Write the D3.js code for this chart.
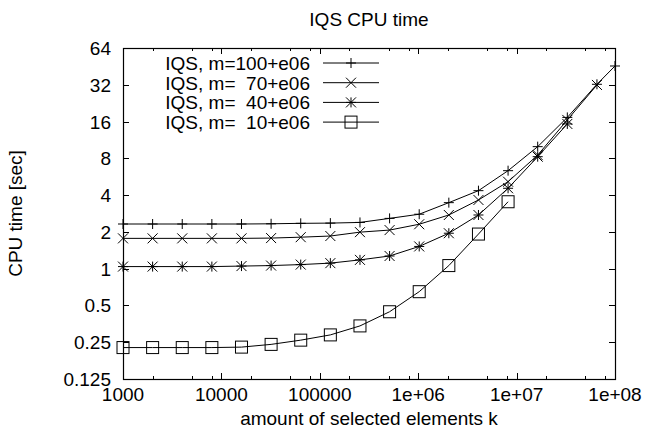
<!DOCTYPE html>
<html>
<head>
<meta charset="utf-8">
<script src="https://cdn.jsdelivr.net/npm/d3@7"></script>
<style>
  body { margin: 0; background: #fff; }
  text { font-family: "Liberation Sans", Arial, sans-serif; fill: #000; }
</style>
</head>
<body>
<svg width="647" height="436"></svg>
<script>
// k values (selected elements)
const kValues = [1000, 2000, 4000, 8000, 16000, 32000, 64000, 128000, 256000, 512000,
  1024000, 2048000, 4096000, 8192000, 16384000, 32768000, 65536000, 100000000];

const seriesNames = ["IQS, m=100+e06", "IQS, m=  70+e06", "IQS, m=  40+e06", "IQS, m=  10+e06"];

const m100 = [2.32, 2.32, 2.32, 2.32, 2.32, 2.33, 2.35, 2.36, 2.39, 2.58, 2.79, 3.47, 4.35, 6.34, 9.97, 17.3, 32.3, 45.6];
const m70 = [1.77, 1.77, 1.77, 1.77, 1.77, 1.78, 1.81, 1.85, 1.99, 2.07, 2.31, 2.75, 3.65, 5.15, 8.5, 16.5, 31.9];
const m40 = [1.04, 1.04, 1.04, 1.04, 1.05, 1.06, 1.08, 1.11, 1.18, 1.27, 1.52, 1.95, 2.75, 4.55, 8.25, 15.3];
const m10 = [0.226, 0.226, 0.226, 0.226, 0.228, 0.24, 0.26, 0.287, 0.34, 0.444, 0.648, 1.06, 1.92, 3.53];

const yTicks = [0.125, 0.25, 0.5, 1, 2, 4, 8, 16, 32, 64];
const xTicks = [1000, 10000, 100000, 1e6, 1e7, 1e8];
const xTickLabels = ["1000", "10000", "100000", "1e+06", "1e+07", "1e+08"];
const xMinorTicks = [2000, 5000, 8000, 20000, 50000, 80000, 200000, 500000, 800000,
  2e6, 5e6, 8e6, 2e7, 5e7, 8e7];

const series = [m100, m70, m40, m10].map((vals, i) => ({
  name: seriesNames[i],
  marker: ["plus", "cross", "star", "square"][i],
  points: vals.map((v, j) => ({ k: kValues[j], t: v }))
}));

const svg = d3.select("svg");
const margin = { top: 48, right: 32, bottom: 57, left: 123 };
const width = 647 - margin.left - margin.right;
const height = 436 - margin.top - margin.bottom;
const fontSize = "19px";

const g = svg.append("g").attr("transform", `translate(${margin.left},${margin.top})`);

const x = d3.scaleLog().base(10).domain([1000, 1e8]).range([0, width]);
const y = d3.scaleLog().base(2).domain([0.125, 64]).range([height, 0]);

// marker shapes
function drawMarker(sel, type, cx, cy) {
  const s = 5;
  const p = sel.append("g").attr("transform", `translate(${cx},${cy})`)
    .attr("stroke", "#000").attr("stroke-width", 1).attr("fill", "none");
  if (type === "plus" || type === "star") {
    p.append("line").attr("x1", -s).attr("x2", s).attr("y1", 0).attr("y2", 0);
    p.append("line").attr("x1", 0).attr("x2", 0).attr("y1", -s).attr("y2", s);
  }
  if (type === "cross" || type === "star") {
    p.append("line").attr("x1", -s).attr("x2", s).attr("y1", -s).attr("y2", s);
    p.append("line").attr("x1", -s).attr("x2", s).attr("y1", s).attr("y2", -s);
  }
  if (type === "square") {
    p.append("rect").attr("x", -6).attr("y", -6).attr("width", 12).attr("height", 12);
  }
}

// Axes: ticks on all four sides, gnuplot style
const axes = g.append("g").attr("stroke", "#000").attr("stroke-width", 1);
xTicks.forEach(t => {
  const px = Math.round(x(t)) + 0.5;
  axes.append("line").attr("x1", px).attr("x2", px).attr("y1", height).attr("y2", height - 6);
  axes.append("line").attr("x1", px).attr("x2", px).attr("y1", 0).attr("y2", 6);
});
xMinorTicks.forEach(t => {
  const px = Math.round(x(t)) + 0.5;
  axes.append("line").attr("x1", px).attr("x2", px).attr("y1", height).attr("y2", height - 3);
  axes.append("line").attr("x1", px).attr("x2", px).attr("y1", 0).attr("y2", 3);
});
yTicks.forEach(t => {
  const py = Math.round(y(t)) + 0.5;
  axes.append("line").attr("x1", 0).attr("x2", 6).attr("y1", py).attr("y2", py);
  axes.append("line").attr("x1", width).attr("x2", width - 6).attr("y1", py).attr("y2", py);
});

// Tick labels
g.selectAll(".xlab").data(xTicks).enter().append("text")
  .attr("x", d => x(d))
  .attr("y", height + 22)
  .attr("text-anchor", "middle")
  .style("font-size", fontSize)
  .text((d, i) => xTickLabels[i]);

g.selectAll(".ylab").data(yTicks).enter().append("text")
  .attr("x", -12)
  .attr("y", d => y(d) + 7)
  .attr("text-anchor", "end")
  .style("font-size", fontSize)
  .text(d => d);

// Lines and markers
const line = d3.line().x(d => x(d.k)).y(d => y(d.t));
series.forEach(s => {
  g.append("path")
    .datum(s.points)
    .attr("fill", "none")
    .attr("stroke", "#000")
    .attr("stroke-width", 1)
    .attr("d", line);
  s.points.forEach(p => drawMarker(g, s.marker, x(p.k), y(p.t)));
});

// Frame
g.append("rect")
  .attr("x", 0.5).attr("y", 0.5)
  .attr("width", width).attr("height", height)
  .attr("fill", "none").attr("stroke", "#000").attr("stroke-width", 1.2);

// Legend
const legend = g.append("g").attr("transform", `translate(0,15)`);
series.forEach((s, i) => {
  const ly = i * 19.7;
  legend.append("text")
    .attr("x", 187)
    .attr("y", ly + 7)
    .attr("text-anchor", "end")
    .style("font-size", fontSize)
    .style("white-space", "pre")
    .attr("xml:space", "preserve")
    .text(s.name);
  legend.append("line")
    .attr("x1", 200).attr("x2", 256)
    .attr("y1", ly).attr("y2", ly)
    .attr("stroke", "#000");
  drawMarker(legend, s.marker, 228, ly);
});

// Title
svg.append("text")
  .attr("x", margin.left + width / 2)
  .attr("y", 26)
  .attr("text-anchor", "middle")
  .style("font-size", fontSize)
  .text("IQS CPU time");

// Axis labels
svg.append("text")
  .attr("x", margin.left + width / 2)
  .attr("y", 425)
  .attr("text-anchor", "middle")
  .style("font-size", fontSize)
  .text("amount of selected elements k");

svg.append("text")
  .attr("transform", `translate(22,${margin.top + height / 2}) rotate(-90)`)
  .attr("text-anchor", "middle")
  .style("font-size", fontSize)
  .text("CPU time [sec]");
</script>
</body>
</html>
